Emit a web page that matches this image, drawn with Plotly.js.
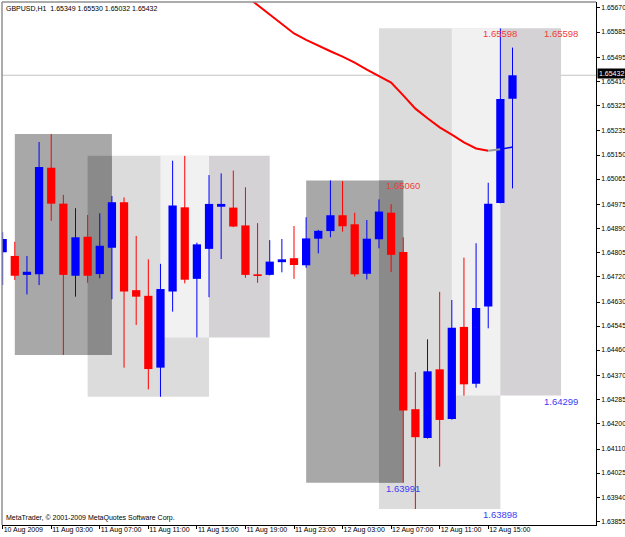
<!DOCTYPE html>
<html>
<head>
<meta charset="utf-8">
<script src="https://cdn.plot.ly/plotly-3.0.1.min.js"></script>
<style>
html,body{margin:0;padding:0;background:#ffffff;}
#chart{width:625px;height:537px;}
</style>
</head>
<body>
<div id="chart"></div>
<script>
// ---- Data (GBPUSD, H1) ----
const barIndex = [0,1,2,3,4,5,6,7,8,9,10,11,12,13,14,15,16,17,18,19,20,21,22,23,24,25,26,27,28,29,30,31,32,33,34,35,36,37,38,39,40,41,42];
const openP  = [1.64806,1.64793,1.64726,1.64728,1.65105,1.64978,1.64723,1.64861,1.64729,1.64822,1.64983,1.64672,1.64652,1.64398,1.64667,1.64965,1.64712,1.64818,1.64967,1.64964,1.64901,1.64728,1.64726,1.64771,1.64785,1.64760,1.64854,1.64881,1.64937,1.64905,1.64730,1.64852,1.64946,1.64807,1.64251,1.64149,1.64392,1.64216,1.64542,1.64341,1.64614,1.64980,1.65349];
const highP  = [1.64877,1.64843,1.64793,1.65196,1.65224,1.65009,1.64962,1.64938,1.64944,1.65005,1.65000,1.64864,1.64781,1.64765,1.65130,1.65147,1.64840,1.65079,1.65085,1.65095,1.65036,1.64909,1.64849,1.64853,1.64899,1.64930,1.64885,1.65060,1.65058,1.64946,1.64920,1.64993,1.64976,1.64859,1.64382,1.64498,1.64666,1.64637,1.64787,1.64838,1.65052,1.65598,1.65530];
const lowP   = [1.64690,1.64708,1.64657,1.64690,1.64917,1.64443,1.64649,1.64698,1.64714,1.64640,1.64398,1.64549,1.64321,1.64295,1.64596,1.64696,1.64505,1.64647,1.64782,1.64895,1.64716,1.64698,1.64724,1.64735,1.64712,1.64751,1.64802,1.64859,1.64879,1.64720,1.64710,1.64820,1.64736,1.63991,1.63898,1.64147,1.64048,1.64214,1.64299,1.64327,1.64537,1.64979,1.65032];
const closeP = [1.64853,1.64723,1.64737,1.65108,1.64978,1.64726,1.64859,1.64723,1.64829,1.64983,1.64667,1.64649,1.64393,1.64676,1.64971,1.64709,1.64834,1.64977,1.64977,1.64897,1.64726,1.64722,1.64773,1.64781,1.64761,1.64855,1.64882,1.64937,1.64898,1.64728,1.64854,1.64950,1.64797,1.64246,1.64152,1.64385,1.64213,1.64539,1.64339,1.64609,1.64978,1.65348,1.65432];

// Moving average line (starts at bar maStart)
const maStart = 20;
const maValues = [1.65714,1.65680,1.65645,1.65613,1.65580,1.65557,1.65536,1.65517,1.65498,1.65477,1.65452,1.65428,1.65406,1.65361,1.65314,1.65280,1.65248,1.65222,1.65195,1.65173,1.65165,1.65170,1.65178];

// Time axis labels
const timeTickBars = [0,4,8,12,16,20,24,28,32,36,40];
const timeTickText = ['10 Aug 2009','11 Aug 03:00','11 Aug 07:00','11 Aug 11:00','11 Aug 15:00','11 Aug 19:00','11 Aug 23:00','12 Aug 03:00','12 Aug 07:00','12 Aug 11:00','12 Aug 15:00'];

// Price axis labels
const priceTicks = [1.65670,1.65585,1.65495,1.65410,1.65325,1.65235,1.65150,1.65065,1.64975,1.64890,1.64805,1.64720,1.64630,1.64545,1.64460,1.64370,1.64285,1.64200,1.64110,1.64025,1.63940,1.63855];

// Range boxes: kind, start bar, end bar, top price, bottom price
const boxKind   = ['B','A','C','D','B','A','C','D'];
const boxStart  = [7, 1, 13, 17, 31, 25, 37, 41];
const boxEnd    = [17, 9, 17, 22, 41, 33, 41, 46];
const boxTop    = [1.65147,1.65224,1.65147,1.65147,1.65598,1.65060,1.65598,1.65598];
const boxBottom = [1.64295,1.64443,1.64505,1.64505,1.63898,1.63991,1.64299,1.64299];

// Level labels
const lvlBar   = [33, 41, 46, 33, 41, 46];
const lvlPrice = [1.65060,1.65598,1.65598,1.63991,1.63898,1.64299];
const lvlSide  = ['top','top','top','bottom','bottom','bottom'];

const lastPrice = 1.65432;
const headerText = 'GBPUSD,H1\u00a0 1.65349 1.65530 1.65032 1.65432';
const footerText = 'MetaTrader, \u00a9 2001-2009 MetaQuotes Software Corp.';

// ---- Build ----
const FONT = 'Liberation Sans, Arial, sans-serif';
const BLUE = '#0000ff', RED = '#ff0000';
const boxFill = {A:'#a8a8a8', B:'#dcdcdc', C:'#f1f1f1', D:'#d5d2d5'};

const bodyBase = [], bodyLen = [], bodyCol = [];
const wb = {x:[], y:[]}, wr = {x:[], y:[]};
barIndex.forEach((b, k) => {
  const o = openP[k], c = closeP[k];
  const up = c >= o;
  bodyBase.push(Math.min(o, c));
  bodyLen.push(Math.max(Math.abs(c - o), 0.00002));
  bodyCol.push(up ? BLUE : RED);
  const w = up ? wb : wr;
  w.x.push(b, b, null);
  w.y.push(lowP[k], highP[k], null);
});

const maX = maValues.map((v, k) => maStart + k);
const nMa = maValues.length;

const traces = [
  {type:'scatter', mode:'lines', x:wb.x, y:wb.y, line:{color:BLUE, width:1}, hoverinfo:'skip'},
  {type:'scatter', mode:'lines', x:wr.x, y:wr.y, line:{color:RED, width:1}, hoverinfo:'skip'},
  {type:'bar', x:barIndex, base:bodyBase, y:bodyLen, width:0.68, marker:{color:bodyCol, line:{width:0}}, hoverinfo:'skip'},
  {type:'scatter', mode:'lines', x:maX.slice(0, nMa-2), y:maValues.slice(0, nMa-2), line:{color:'#ff0000', width:2}, hoverinfo:'skip'},
  {type:'scatter', mode:'lines', x:maX.slice(nMa-3, nMa-1), y:maValues.slice(nMa-3, nMa-1), line:{color:'#999999', width:2}, hoverinfo:'skip'},
  {type:'scatter', mode:'lines', x:maX.slice(nMa-2), y:maValues.slice(nMa-2), line:{color:'#0000ff', width:1.5}, hoverinfo:'skip'}
];

function rectShape(x0, x1, y0, y1, color) {
  return {type:'rect', xref:'x', yref:'y', x0:x0, x1:x1, y0:y0, y1:y1, fillcolor:color, line:{width:0}, layer:'below'};
}
const shapes = [];
['B','A'].forEach(kind => {
  boxKind.forEach((kd, k) => { if (kd === kind) shapes.push(rectShape(boxStart[k], boxEnd[k], boxBottom[k], boxTop[k], boxFill[kd])); });
});
// overlap of A and B boxes (darker)
boxKind.forEach((ka, a) => {
  if (ka !== 'A') return;
  boxKind.forEach((kb, b) => {
    if (kb !== 'B') return;
    const x0 = Math.max(boxStart[a], boxStart[b]), x1 = Math.min(boxEnd[a], boxEnd[b]);
    const y0 = Math.max(boxBottom[a], boxBottom[b]), y1 = Math.min(boxTop[a], boxTop[b]);
    if (x1 > x0 && y1 > y0) shapes.push(rectShape(x0, x1, y0, y1, '#8a8a8a'));
  });
});
['C','D'].forEach(kind => {
  boxKind.forEach((kd, k) => { if (kd === kind) shapes.push(rectShape(boxStart[k], boxEnd[k], boxBottom[k], boxTop[k], boxFill[kd])); });
});
// current price line
shapes.push({type:'line', xref:'paper', yref:'y', x0:0, x1:1, y0:lastPrice, y1:lastPrice, line:{color:'#c4c4c4', width:1}, layer:'below'});
// top & left frame (gray)
shapes.push({type:'line', xref:'paper', yref:'paper', x0:0, x1:1, y0:1, y1:1, line:{color:'#909090', width:1.5}});
shapes.push({type:'line', xref:'paper', yref:'paper', x0:0, x1:0, y0:0, y1:1, line:{color:'#909090', width:1.5}});

const annotations = [];
lvlBar.forEach((b, k) => {
  const top = lvlSide[k] === 'top';
  annotations.push({
    xref:'x', yref:'y', x:b, y:lvlPrice[k], xanchor:'center', yanchor:'top',
    text:lvlPrice[k].toFixed(5), showarrow:false, borderpad:0, yshift:1,
    font:{family:FONT, size:9.5, color: top ? '#f23c3c' : '#3c3cf5'}
  });
});
annotations.push({xref:'paper', yref:'y', x:1, y:lastPrice, xanchor:'left', yanchor:'middle', xshift:1, yshift:2,
  text:lastPrice.toFixed(5), showarrow:false, bgcolor:'#000000', borderpad:1,
  font:{family:FONT, size:7, color:'#ffffff'}});
annotations.push({xref:'paper', yref:'paper', x:0, y:1, xanchor:'left', yanchor:'top', xshift:2, yshift:-1,
  text:headerText, showarrow:false, font:{family:FONT, size:7, color:'#000000'}});
annotations.push({xref:'paper', yref:'paper', x:0, y:0, xanchor:'left', yanchor:'bottom', xshift:2, yshift:1,
  text:footerText, showarrow:false, font:{family:FONT, size:7, color:'#000000'}});

const layout = {
  width:625, height:537,
  margin:{l:2, r:29, t:2, b:12, pad:0},
  paper_bgcolor:'#ffffff', plot_bgcolor:'#ffffff',
  showlegend:false, barmode:'overlay',
  font:{family:FONT, size:7, color:'#000000'},
  xaxis:{
    range:[-0.0544, 48.878], tickmode:'array', tickvals:timeTickBars, ticktext:timeTickText,
    ticks:'outside', ticklen:3, tickcolor:'#000000', tickwidth:1, tickangle:0,
    ticklabelposition:'outside right', ticklabelstandoff:-2, automargin:false,
    showgrid:false, zeroline:false, showline:true, linecolor:'#000000', linewidth:1,
    tickfont:{family:FONT, size:7, color:'#000000'}, fixedrange:true
  },
  yaxis:{
    side:'right', range:[1.638414, 1.656912], tickmode:'array', tickvals:priceTicks, tickformat:'.5f',
    ticks:'outside', ticklen:3, tickcolor:'#000000', tickwidth:1, automargin:false,
    showgrid:false, zeroline:false, showline:true, linecolor:'#000000', linewidth:1,
    tickfont:{family:FONT, size:6.8, color:'#000000'}, fixedrange:true
  },
  shapes:shapes,
  annotations:annotations
};

Plotly.newPlot('chart', traces, layout, {staticPlot:true, displayModeBar:false});
</script>
</body>
</html>
